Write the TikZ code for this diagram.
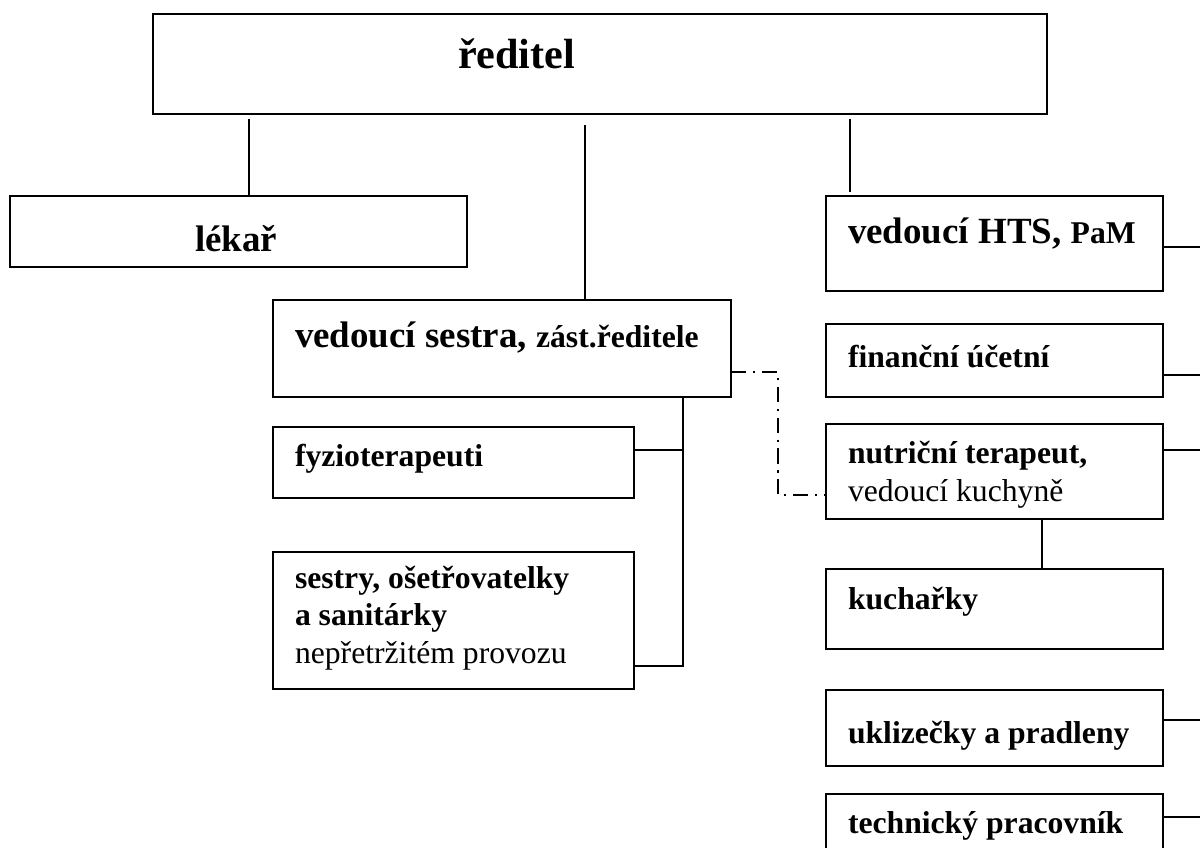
\documentclass[tikz,border=0pt]{standalone}
\usepackage{fontspec}
\setmainfont{Liberation Serif}
\usetikzlibrary{fit}
\newcommand{\fbig}{\fontsize{16}{19}\selectfont\bfseries}
\newcommand{\fmid}{\fontsize{14}{17}\selectfont\bfseries}
\newcommand{\fsmb}{\fontsize{12}{14}\selectfont\bfseries}
\newcommand{\fsmr}{\fontsize{12}{14}\selectfont\mdseries}
\begin{document}
\begin{tikzpicture}[x=0.379pt,y=-0.379pt,
  box/.style={draw,line width=0.75pt,inner sep=0pt,outer sep=0pt},
  lbl/.style={anchor=base west,inner sep=0pt,outer sep=0pt},
  conn/.style={line width=0.75pt},
  dashdot/.style={line width=0.75pt,dash pattern=on 5.7pt off 2.6pt on 0.8pt off 2.6pt}]
\useasboundingbox (0,0) rectangle (1200,848);
\clip (0,0) rectangle (1200,848);
% boxes
\node[box,fit={(153,14) (1047,114)}] (reditel) {};
\node[box,fit={(10,196) (467,267)}] (lekar) {};
\node[box,fit={(826,196) (1163,291)}] (hts) {};
\node[box,fit={(273,300) (731,397)}] (sestra) {};
\node[box,fit={(273,427) (634,498)}] (fyzio) {};
\node[box,fit={(273,552) (634,689)}] (sestry) {};
\node[box,fit={(826,324) (1163,397)}] (fin) {};
\node[box,fit={(826,424) (1163,519)}] (nutr) {};
\node[box,fit={(826,569) (1163,649)}] (kuch) {};
\node[box,fit={(826,690) (1163,766)}] (ukl) {};
\node[box,fit={(826,794) (1163,880)}] (tech) {};
% texts
\node[lbl] (treditel) at (458,68) {\fbig ředitel};
\node[lbl] (tlekar) at (195,251) {\fmid lékař};
\node[lbl] (thts) at (848,243) {\fmid vedoucí HTS, {\fsmb PaM}};
\node[lbl] (tsestra) at (295,347) {\fmid vedoucí sestra, {\fsmb zást.ředitele}};
\node[lbl] (tfyzio) at (295,466) {\fsmb fyzioterapeuti};
\node[lbl] (tsestry1) at (295,588) {\fsmb sestry, ošetřovatelky};
\node[lbl] (tsestry2) at (295,625) {\fsmb a sanitárky};
\node[lbl] (tsestry3) at (295,663) {\fsmr nepřetržitém provozu};
\node[lbl] (tfin) at (848,367) {\fsmb finanční účetní};
\node[lbl] (tnutr1) at (848,463) {\fsmb nutriční terapeut,};
\node[lbl] (tnutr2) at (848,501) {\fsmr vedoucí kuchyně};
\node[lbl] (tkuch) at (848,609) {\fsmb kuchařky};
\node[lbl] (tukl) at (848,743) {\fsmb uklizečky a pradleny};
\node[lbl] (ttech) at (848,833) {\fsmb technický pracovník};
% connectors from ředitel
\coordinate (c1) at (249,119);
\coordinate (c2) at (585,125);
\coordinate (c3) at (850,119);
\draw[conn] (c1) -- (c1 |- lekar.north);
\draw[conn] (c2) -- (c2 |- sestra.north);
\draw[conn] (c3) -- ([yshift=1.5pt]c3 |- hts.north);
% vedoucí sestra branch
\coordinate (v1) at (683,397);
\coordinate (v2) at (683,666);
\coordinate (v3) at (683,450);
\draw[conn] (v1) -- (v2) -- (v2 -| sestry.east);
\draw[conn] (v3) -- (v3 -| fyzio.east);
% dash-dot link
\coordinate (d1) at (778,372);
\coordinate (d2) at (778,495);
\draw[dashdot] (d1 -| sestra.east) -- (d1) -- (d2) -- (d2 -| nutr.west);
% nutriční to kuchařky
\coordinate (k1) at (1042,519);
\draw[conn] (k1 |- nutr.south) -- (k1 |- kuch.north);
% right stubs
\coordinate (s1) at (1205,247);
\coordinate (s2) at (1205,375);
\coordinate (s3) at (1205,450);
\coordinate (s4) at (1205,720);
\coordinate (s5) at (1205,817);
\draw[conn] (s1 -| hts.east) -- (s1);
\draw[conn] (s2 -| fin.east) -- (s2);
\draw[conn] (s3 -| nutr.east) -- (s3);
\draw[conn] (s4 -| ukl.east) -- (s4);
\draw[conn] (s5 -| tech.east) -- (s5);
\end{tikzpicture}
\end{document}
